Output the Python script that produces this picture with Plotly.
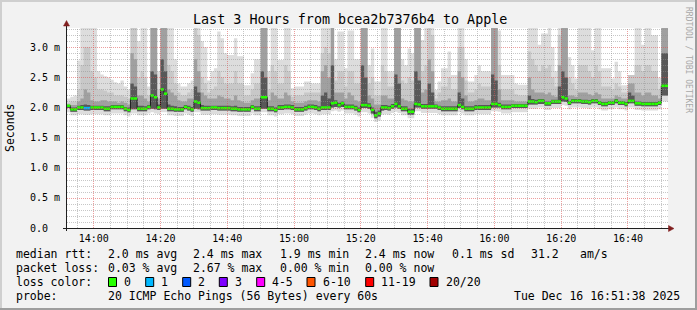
import math
import plotly.graph_objects as go
import pandas as pd

# ---------------- data (one value per minute, 13:52 .. 16:51) ----------------
START = "2025-12-16 13:52:00"

rtt_median = [
    2.03, 1.97, 1.97, 2.00, 2.00, 1.99, 1.99, 2.00,
    2.00, 2.00, 2.00, 1.98, 1.98, 2.01, 2.01, 2.01, 2.01, 1.98,
    1.96, 2.15, 2.15, 1.98, 1.98, 1.98, 2.01, 2.20, 2.17, 2.00,
    2.30, 2.23, 1.98, 1.98, 1.97, 1.97, 1.97, 2.01, 1.99, 1.97,
    2.10, 2.08, 1.99, 1.99, 1.99, 2.00, 2.00, 1.99, 1.99, 1.99,
    1.99, 1.98, 1.98, 1.97, 1.97, 1.97, 1.97, 2.01, 1.98, 1.98,
    2.17, 2.17, 1.98, 1.98, 1.96, 2.00, 2.00, 2.01, 2.01, 2.00,
    1.97, 1.97, 1.97, 1.99, 2.01, 2.01, 2.00, 1.98, 2.00, 2.00,
    2.00, 2.07, 2.08, 2.04, 2.07, 2.01, 2.01, 2.01, 1.99, 1.96,
    2.04, 2.04, 2.03, 1.96, 1.87, 1.90, 2.00, 2.00, 1.99, 2.02,
    2.06, 2.02, 1.98, 1.98, 1.93, 1.93, 2.06, 2.05, 2.02, 2.02,
    2.02, 2.02, 2.02, 2.00, 1.98, 1.98, 1.98, 1.98, 1.98, 2.04,
    2.01, 1.98, 1.98, 1.98, 2.00, 2.00, 2.00, 2.00, 2.00, 2.06,
    2.06, 2.04, 2.01, 2.01, 2.01, 2.03, 2.03, 2.03, 2.03, 2.03,
    2.10, 2.10, 2.09, 2.11, 2.11, 2.07, 2.07, 2.10, 2.10, 2.10,
    2.17, 2.15, 2.08, 2.11, 2.11, 2.11, 2.10, 2.10, 2.09, 2.11,
    2.11, 2.08, 2.06, 2.06, 2.08, 2.08, 2.11, 2.08, 2.08, 2.06,
    2.11, 2.11, 2.07, 2.07, 2.06, 2.06, 2.06, 2.06, 2.06, 2.08,
    2.36, 2.36,
]

ping_loss = [0] * 5 + [1, 1] + [0] * 173

rtt_max = [
    2.15, 2.18, 2.20, 2.78, 3.33, 3.33, 3.33, 3.33,
    3.33, 2.60, 2.55, 2.52, 2.50, 2.46, 2.42, 2.40, 2.45, 2.35,
    2.30, 3.33, 3.33, 3.10, 3.33, 3.33, 2.35, 3.33, 3.33, 2.60,
    3.33, 3.33, 3.33, 3.33, 2.80, 2.40, 2.35, 2.35, 2.40, 2.45,
    3.33, 3.33, 3.10, 3.00, 2.45, 2.60, 2.65, 3.26, 3.15, 2.90,
    2.87, 2.87, 3.15, 2.85, 2.85, 2.37, 2.37, 2.57, 2.80, 2.80,
    3.33, 3.33, 2.60, 3.33, 3.33, 2.79, 2.79, 3.33, 3.33, 2.32,
    2.35, 2.35, 2.35, 2.43, 2.43, 2.40, 2.40, 2.40, 3.33, 3.33,
    3.33, 3.33, 2.80, 3.26, 3.26, 2.65, 3.28, 3.28, 2.80, 2.80,
    3.33, 3.33, 2.70, 2.98, 2.43, 2.43, 3.33, 3.33, 2.60, 2.60,
    3.33, 3.33, 2.80, 2.70, 2.98, 2.90, 3.33, 3.33, 3.12, 3.33,
    3.33, 3.33, 2.29, 2.43, 2.65, 2.65, 2.93, 2.54, 2.54, 3.33,
    3.33, 2.80, 2.43, 2.43, 2.54, 2.70, 2.60, 2.60, 2.60, 3.33,
    3.33, 3.28, 2.54, 2.54, 2.54, 2.54, 2.40, 2.38, 2.38, 2.38,
    3.33, 3.33, 3.33, 3.04, 3.23, 3.23, 3.33, 3.00, 2.60, 3.33,
    3.33, 3.33, 2.84, 2.70, 2.48, 3.33, 3.33, 3.33, 3.33, 2.95,
    3.33, 3.33, 2.65, 2.65, 2.65, 2.48, 2.76, 2.60, 2.37, 2.37,
    2.54, 2.54, 3.33, 3.33, 3.04, 3.33, 3.33, 3.20, 3.20, 2.50,
    3.33, 3.33,
]

rtt_p2 = [
    2.08, 2.10, 2.10, 2.30, 2.70, 3.00, 3.00, 2.60,
    2.50, 2.30, 2.30, 2.28, 2.25, 2.25, 2.20, 2.20, 2.20, 2.18,
    2.15, 3.33, 3.33, 2.50, 2.60, 2.50, 2.20, 3.33, 3.33, 2.30,
    3.33, 3.33, 2.70, 2.60, 2.40, 2.25, 2.20, 2.20, 2.25, 2.30,
    3.33, 3.20, 2.50, 2.40, 2.25, 2.30, 2.35, 2.60, 2.50, 2.40,
    2.40, 2.40, 2.60, 2.40, 2.40, 2.20, 2.20, 2.30, 2.40, 2.40,
    3.33, 3.33, 2.30, 2.70, 2.60, 2.40, 2.40, 2.70, 2.60, 2.18,
    2.20, 2.20, 2.20, 2.25, 2.25, 2.25, 2.25, 2.25, 2.90, 3.00,
    2.90, 3.33, 2.45, 2.60, 2.60, 2.35, 2.60, 2.60, 2.40, 2.40,
    3.33, 3.33, 2.40, 2.50, 2.20, 2.20, 2.70, 2.60, 2.35, 2.35,
    3.33, 3.33, 2.45, 2.40, 2.50, 2.45, 3.33, 3.33, 2.60, 2.70,
    3.33, 3.20, 2.15, 2.25, 2.35, 2.35, 2.50, 2.30, 2.30, 3.00,
    3.00, 2.45, 2.25, 2.25, 2.30, 2.40, 2.35, 2.35, 2.35, 3.33,
    3.33, 2.70, 2.30, 2.30, 2.30, 2.30, 2.22, 2.20, 2.20, 2.20,
    2.93, 2.80, 2.70, 2.60, 2.70, 2.65, 2.70, 2.50, 2.35, 3.20,
    3.33, 3.33, 2.50, 2.40, 2.30, 2.70, 2.70, 2.70, 2.60, 2.50,
    2.70, 2.60, 2.35, 2.35, 2.35, 2.30, 2.40, 2.35, 2.25, 2.25,
    2.54, 2.54, 2.70, 2.70, 2.60, 2.70, 2.70, 2.60, 2.60, 2.30,
    3.33, 3.33,
]

rtt_p3 = [
    2.05, 2.04, 2.04, 2.10, 2.15, 2.30, 2.25, 2.12,
    2.10, 2.10, 2.12, 2.12, 2.10, 2.10, 2.10, 2.08, 2.10, 2.08,
    2.05, 2.90, 2.80, 2.20, 2.20, 2.15, 2.10, 3.33, 3.33, 2.15,
    3.33, 3.33, 2.30, 2.25, 2.20, 2.12, 2.10, 2.10, 2.15, 2.15,
    2.80, 2.60, 2.25, 2.20, 2.15, 2.15, 2.15, 2.20, 2.18, 2.15,
    2.15, 2.12, 2.20, 2.12, 2.10, 2.08, 2.08, 2.12, 2.15, 2.15,
    3.33, 3.33, 2.12, 2.25, 2.20, 2.15, 2.15, 2.25, 2.20, 2.10,
    2.08, 2.08, 2.08, 2.10, 2.12, 2.12, 2.12, 2.10, 2.60, 2.70,
    2.50, 3.33, 2.25, 2.25, 2.25, 2.15, 2.25, 2.20, 2.12, 2.10,
    3.33, 3.33, 2.20, 2.15, 2.05, 2.05, 2.20, 2.20, 2.15, 2.15,
    3.33, 3.33, 2.15, 2.12, 2.10, 2.10, 3.33, 3.33, 2.25, 2.30,
    2.80, 2.60, 2.10, 2.10, 2.12, 2.12, 2.15, 2.10, 2.10, 2.60,
    2.50, 2.20, 2.10, 2.10, 2.12, 2.15, 2.15, 2.12, 2.12, 3.33,
    3.33, 2.30, 2.12, 2.12, 2.12, 2.12, 2.10, 2.10, 2.10, 2.10,
    2.50, 2.30, 2.25, 2.25, 2.25, 2.22, 2.25, 2.20, 2.18, 2.70,
    3.33, 3.33, 2.20, 2.20, 2.18, 2.25, 2.25, 2.25, 2.22, 2.20,
    2.25, 2.22, 2.15, 2.15, 2.15, 2.15, 2.20, 2.18, 2.15, 2.15,
    2.40, 2.40, 2.25, 2.25, 2.20, 2.25, 2.25, 2.20, 2.20, 2.15,
    3.33, 3.33,
]

rtt_p4 = [
    2.04, 2.00, 2.00, 2.03, 2.04, 2.05, 2.04, 2.03,
    2.03, 2.03, 2.03, 2.02, 2.02, 2.04, 2.04, 2.04, 2.04, 2.01,
    2.00, 2.40, 2.35, 2.03, 2.03, 2.02, 2.04, 2.60, 2.55, 2.05,
    2.80, 2.60, 2.05, 2.03, 2.02, 2.01, 2.01, 2.04, 2.03, 2.01,
    2.35, 2.25, 2.04, 2.03, 2.03, 2.03, 2.03, 2.03, 2.03, 2.03,
    2.03, 2.02, 2.03, 2.01, 2.01, 2.01, 2.01, 2.04, 2.02, 2.02,
    2.60, 2.50, 2.02, 2.02, 2.00, 2.04, 2.04, 2.05, 2.05, 2.04,
    2.01, 2.01, 2.01, 2.03, 2.05, 2.05, 2.04, 2.02, 2.20, 2.25,
    2.15, 2.70, 2.12, 2.08, 2.10, 2.05, 2.05, 2.05, 2.03, 2.00,
    2.70, 2.50, 2.07, 2.00, 1.93, 1.95, 2.04, 2.04, 2.03, 2.06,
    2.55, 2.40, 2.02, 2.02, 1.98, 1.98, 2.60, 2.45, 2.06, 2.06,
    2.40, 2.25, 2.05, 2.03, 2.02, 2.02, 2.02, 2.02, 2.02, 2.25,
    2.15, 2.02, 2.02, 2.02, 2.04, 2.04, 2.04, 2.04, 2.04, 2.55,
    2.45, 2.08, 2.05, 2.05, 2.05, 2.06, 2.06, 2.06, 2.06, 2.06,
    2.20, 2.14, 2.13, 2.14, 2.14, 2.10, 2.10, 2.13, 2.13, 2.35,
    2.60, 2.50, 2.11, 2.14, 2.14, 2.14, 2.13, 2.13, 2.12, 2.14,
    2.14, 2.11, 2.09, 2.09, 2.11, 2.11, 2.14, 2.11, 2.11, 2.09,
    2.25, 2.20, 2.10, 2.10, 2.09, 2.09, 2.09, 2.09, 2.09, 2.11,
    2.90, 2.90,
]

rtt_p25 = [
    1.99, 1.93, 1.93, 1.96, 1.96, 1.95, 1.95, 1.96,
    1.96, 1.96, 1.96, 1.94, 1.94, 1.97, 1.97, 1.97, 1.97, 1.94,
    1.92, 1.97, 1.97, 1.94, 1.94, 1.94, 1.97, 1.98, 1.97, 1.96,
    1.98, 1.98, 1.94, 1.94, 1.93, 1.93, 1.93, 1.97, 1.95, 1.93,
    1.98, 1.97, 1.95, 1.95, 1.95, 1.96, 1.96, 1.95, 1.95, 1.95,
    1.95, 1.94, 1.94, 1.93, 1.93, 1.93, 1.93, 1.97, 1.94, 1.94,
    1.98, 1.98, 1.94, 1.94, 1.92, 1.96, 1.96, 1.97, 1.97, 1.96,
    1.93, 1.93, 1.93, 1.95, 1.97, 1.97, 1.96, 1.94, 1.96, 1.96,
    1.96, 2.00, 2.01, 2.00, 2.01, 1.97, 1.97, 1.97, 1.95, 1.92,
    1.99, 1.99, 1.98, 1.90, 1.82, 1.85, 1.95, 1.96, 1.95, 1.98,
    2.00, 1.98, 1.94, 1.94, 1.88, 1.88, 2.00, 2.00, 1.98, 1.98,
    1.98, 1.98, 1.98, 1.96, 1.94, 1.94, 1.94, 1.94, 1.94, 1.99,
    1.97, 1.94, 1.94, 1.94, 1.96, 1.96, 1.96, 1.96, 1.96, 2.00,
    2.00, 2.00, 1.97, 1.97, 1.97, 1.99, 1.99, 1.99, 1.99, 1.99,
    2.05, 2.05, 2.05, 2.06, 2.06, 2.03, 2.03, 2.06, 2.06, 2.06,
    2.10, 2.09, 2.04, 2.07, 2.07, 2.07, 2.06, 2.06, 2.05, 2.07,
    2.07, 2.04, 2.02, 2.02, 2.04, 2.04, 2.07, 2.04, 2.04, 2.02,
    2.07, 2.07, 2.03, 2.03, 2.02, 2.02, 2.02, 2.02, 2.02, 2.04,
    2.20, 2.20,
]

rtt_min = [
    1.92, 1.87, 1.87, 1.89, 1.89, 1.88, 1.88, 1.89,
    1.89, 1.89, 1.89, 1.87, 1.87, 1.90, 1.90, 1.90, 1.90, 1.87,
    1.85, 1.90, 1.90, 1.87, 1.87, 1.87, 1.90, 1.92, 1.90, 1.89,
    1.92, 1.92, 1.87, 1.87, 1.86, 1.86, 1.86, 1.90, 1.88, 1.86,
    1.92, 1.92, 1.88, 1.88, 1.88, 1.89, 1.89, 1.88, 1.88, 1.88,
    1.88, 1.87, 1.87, 1.86, 1.86, 1.86, 1.86, 1.90, 1.87, 1.87,
    1.92, 1.92, 1.87, 1.87, 1.85, 1.89, 1.89, 1.90, 1.90, 1.89,
    1.86, 1.86, 1.86, 1.88, 1.90, 1.90, 1.89, 1.87, 1.89, 1.89,
    1.89, 1.94, 1.95, 1.93, 1.95, 1.90, 1.90, 1.90, 1.88, 1.85,
    1.92, 1.92, 1.90, 1.83, 1.76, 1.78, 1.88, 1.89, 1.88, 1.91,
    1.93, 1.91, 1.87, 1.87, 1.82, 1.82, 1.94, 1.94, 1.91, 1.91,
    1.91, 1.91, 1.91, 1.89, 1.87, 1.87, 1.87, 1.87, 1.87, 1.92,
    1.90, 1.87, 1.87, 1.87, 1.89, 1.89, 1.89, 1.89, 1.89, 1.94,
    1.94, 1.93, 1.90, 1.90, 1.90, 1.92, 1.92, 1.92, 1.92, 1.92,
    1.98, 1.98, 1.98, 2.00, 2.00, 1.96, 1.96, 1.99, 1.99, 1.99,
    2.04, 2.03, 1.97, 2.00, 2.00, 2.00, 1.99, 1.99, 1.98, 2.00,
    2.00, 1.97, 1.95, 1.95, 1.97, 1.97, 2.00, 1.97, 1.97, 1.95,
    2.00, 2.00, 1.96, 1.96, 1.95, 1.95, 1.95, 1.95, 1.95, 1.97,
    2.10, 2.10,
]

y_tick_vals = [0.0, 0.5, 1.0, 1.5, 2.0, 2.5, 3.0]
y_tick_text = ["0.0\u00a0\u00a0", "0.5 m", "1.0 m", "1.5 m", "2.0 m", "2.5 m", "3.0 m"]

loss_labels = ["0", "1", "2", "3", "4-5", "6-10", "11-19", "20/20"]
loss_colors = ["#26ff00", "#00b8ff", "#0059ff", "#7e00ff", "#ff00ff", "#ff5500", "#ff0000", "#a10000"]
smoke_colors = ["#dddddd", "#c8c8c8", "#a0a0a0", "#585858"]

title_text = "Last 3 Hours from bcea2b7376b4 to Apple"
legend_rows = [
    ["median rtt:", "2.0 ms avg", "2.4 ms max", "1.9 ms min", "2.4 ms now", "0.1 ms sd", "31.2", "am/s"],
    ["packet loss:", "0.03 % avg", "2.67 % max", "0.00 % min", "0.00 % now"],
]
probe_text = "20 ICMP Echo Pings (56 Bytes) every 60s"
date_text = "Tue Dec 16 16:51:38 2025"

# ---------------- layout helpers ----------------
FIG_W, FIG_H = 697, 310
PL, PR, PT, PB = 67, 668, 28, 228
Y_MAX = 3.32
MONO = "DejaVu Sans Mono"


def PX(px):
    return (px - PL) / (PR - PL)


def PY(py):
    return (PB - py) / (PB - PT)


n = len(rtt_median)
times = pd.date_range(START, periods=n + 1, freq="min")
t0, t1 = times[0], times[-1]


def closed(v):
    return list(v) + [v[-1]]


def loss_class(k):
    if k <= 3:
        return k
    if k <= 5:
        return 4
    if k <= 10:
        return 5
    if k <= 19:
        return 6
    return 7


fig = go.Figure()

# smoke bands
bands = [(rtt_min, rtt_max), (rtt_p25, rtt_p2), (rtt_p25, rtt_p3), (rtt_p25, rtt_p4)]
for (lo, hi), col in zip(bands, smoke_colors):
    fig.add_trace(go.Scatter(x=times, y=closed(lo), mode="lines",
                             line=dict(width=0, shape="hv", color=col),
                             hoverinfo="skip", showlegend=False))
    fig.add_trace(go.Scatter(x=times, y=closed(hi), mode="lines",
                             line=dict(width=0, shape="hv", color=col),
                             fill="tonexty", fillcolor=col,
                             hoverinfo="skip", showlegend=False))

# dark median connector
fig.add_trace(go.Scatter(x=times, y=closed(rtt_median), mode="lines",
                         line=dict(width=1, shape="hv", color="#1e1e1e"),
                         hoverinfo="skip", showlegend=False))

# loss-coloured median segments
for c, col in enumerate(loss_colors):
    xs, ys = [], []
    for i, v in enumerate(rtt_median):
        if loss_class(ping_loss[i]) == c:
            xs += [times[i], times[i + 1], None]
            ys += [v, v, None]
    if xs:
        fig.add_trace(go.Scatter(x=xs, y=ys, mode="lines",
                                 line=dict(width=2.5, color=col),
                                 hoverinfo="skip", showlegend=False))

shapes = []
# grid (drawn above the data like rrdtool), snapped to pixel centres
MINOR = "rgba(143,143,143,0.5)"
MAJOR = "rgba(222,79,79,0.55)"
span = (t1 - t0).total_seconds()
for t in pd.date_range("2025-12-16 13:55", "2025-12-16 16:50", freq="5min"):
    col = MAJOR if t.minute % 20 == 0 else MINOR
    px = PL + (t - t0).total_seconds() / span * (PR - PL)
    px = math.floor(px) + 0.5
    shapes.append(dict(type="line", xref="paper", yref="paper", x0=PX(px), x1=PX(px), y0=0, y1=1,
                       line=dict(color=col, width=1, dash="1px,1px"), layer="above"))
for k in range(1, 34):
    v = k / 10
    col = MAJOR if k % 5 == 0 else MINOR
    py = PB - v / Y_MAX * (PB - PT)
    py = round(py) + 0.5
    shapes.append(dict(type="line", xref="paper", yref="paper", x0=0, x1=1, y0=PY(py), y1=PY(py),
                       line=dict(color=col, width=1, dash="1px,1px"), layer="above"))

# axes with arrows
AXIS = "#1f1f1f"
ARROW = "#801f1f"
shapes.append(dict(type="line", xref="paper", yref="paper", x0=PX(63), x1=PX(669), y0=PY(228.5), y1=PY(228.5),
                   line=dict(color=AXIS, width=1), layer="above"))
shapes.append(dict(type="line", xref="paper", yref="paper", x0=PX(66.5), x1=PX(66.5), y0=PY(231), y1=PY(25),
                   line=dict(color=AXIS, width=1), layer="above"))
shapes.append(dict(type="path", xref="paper", yref="paper", layer="above",
                   path=f"M {PX(674)} {PY(228.5)} L {PX(668.5)} {PY(225.5)} L {PX(668.5)} {PY(231.5)} Z",
                   fillcolor=ARROW, line=dict(color=ARROW, width=0.5)))
shapes.append(dict(type="path", xref="paper", yref="paper", layer="above",
                   path=f"M {PX(66.5)} {PY(20.5)} L {PX(63.5)} {PY(26)} L {PX(69.5)} {PY(26)} Z",
                   fillcolor=ARROW, line=dict(color=ARROW, width=0.5)))

# 3d frame
SHADEA, SHADEB = "#cfcfcf", "#9e9e9e"
frame = [
    (0, 697, 0, 2, SHADEA), (0, 2, 0, 310, SHADEA),
    (695, 697, 0, 310, SHADEB), (0, 697, 308, 310, SHADEB),
]
for x0, x1, y0, y1, col in frame:
    shapes.append(dict(type="rect", xref="paper", yref="paper", layer="above",
                       x0=PX(x0), x1=PX(x1), y0=PY(y1), y1=PY(y0),
                       fillcolor=col, line=dict(width=0)))

annotations = []


def text(s, px, py, size=11.5, anchor="left", color="#000000", angle=0):
    annotations.append(dict(text=s, xref="paper", yref="paper", x=PX(px), y=PY(py),
                            xanchor=anchor, yanchor="middle", showarrow=False,
                            textangle=angle, borderpad=0,
                            font=dict(family=MONO, size=size, color=color)))


text(title_text, 349.5, 19, size=13.4, anchor="center")
text("Seconds", 10, 128, size=11.5, anchor="center", angle=-90)
text("RRDTOOL / TOBI OETIKER", 689, 60, size=8, anchor="center", color="#a8a8a8", angle=90)

col_x = [15, 107, 192, 278.5, 364, 450.5, 529.5, 578.5]
row_y = [254, 268, 282, 296]
for r, row in enumerate(legend_rows):
    for s, xx in zip(row, col_x):
        text(s, xx, row_y[r])

text("loss color:", 15, row_y[2])
box_x = [108.5, 145.7, 182.7, 219.3, 256.7, 307.0, 365.7, 430.0]
for lbl, col, bx in zip(loss_labels, loss_colors, box_x):
    shapes.append(dict(type="rect", xref="paper", yref="paper", layer="above",
                       x0=PX(bx), x1=PX(bx + 8), y0=PY(row_y[2] + 4.5), y1=PY(row_y[2] - 4.5),
                       fillcolor=col, line=dict(color="#000000", width=1)))
    text(lbl, bx + 14.5, row_y[2])

text("probe:", 15, row_y[3])
text(probe_text, 107, row_y[3])
text(date_text, 680.5, row_y[3], anchor="right")

tick_times = pd.date_range("2025-12-16 14:00", "2025-12-16 16:40", freq="20min")

fig.update_layout(
    width=FIG_W, height=FIG_H,
    margin=dict(l=PL, r=FIG_W - PR, t=PT, b=FIG_H - PB, pad=0),
    paper_bgcolor="#f2f2f2", plot_bgcolor="#ffffff",
    showlegend=False,
    shapes=shapes, annotations=annotations,
    xaxis=dict(type="date", range=[t0, t1],
               tickvals=list(tick_times), ticktext=[t.strftime("%H:%M") for t in tick_times],
               showgrid=False, zeroline=False, showline=False, ticks="",
               ticklabelstandoff=3,
               tickfont=dict(family=MONO, size=10, color="#000000"), fixedrange=True),
    yaxis=dict(range=[0, Y_MAX], tickvals=y_tick_vals, ticktext=y_tick_text,
               showgrid=False, zeroline=False, showline=False, ticks="",
               ticklabelstandoff=6,
               tickfont=dict(family=MONO, size=10, color="#000000"), fixedrange=True),
)

fig.write_html("out.html", config=dict(displayModeBar=False))
